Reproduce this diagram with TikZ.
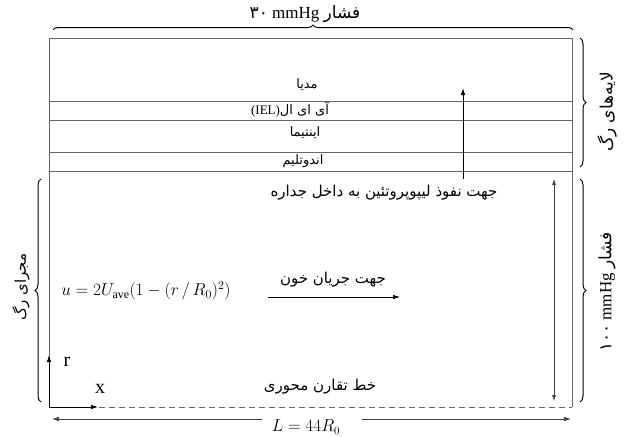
\documentclass[tikz,border=0pt]{standalone}
\usepackage{fontspec}
\setmainfont{Liberation Serif}
\newfontfamily\arabicfont[Script=Arabic]{DejaVu Sans}
\TeXXeTstate=1
\usetikzlibrary{decorations.pathreplacing,arrows.meta}
\newcommand{\fa}[1]{{\arabicfont\beginR #1\endR}}
\newcommand{\fd}[1]{{\arabicfont #1}}
\begin{document}
\begin{tikzpicture}[x=1pt,y=-1pt,
  wall/.style={draw=black!60, line width=0.9pt},
  arr/.style={-{Latex[length=7pt,width=4.5pt]}, line width=0.8pt},
  thinarr/.style={{Latex[length=6pt,width=4pt]}-{Latex[length=6pt,width=4pt]}, line width=0.6pt, draw=black!75},
  brc/.style={decorate, decoration={brace, amplitude=6pt}, line width=1pt},
  lbl/.style={inner sep=0pt, font=\fontsize{15}{17}\selectfont},
  big/.style={inner sep=0pt, font=\fontsize{17}{19}\selectfont},
  axlbl/.style={inner sep=0pt, font=\fontsize{20}{22}\selectfont},
  lay/.style={inner sep=0pt, font=\fontsize{13}{15}\selectfont}]
\useasboundingbox (0,0) rectangle (625,437);
\fill[white] (0,0) rectangle (625,437);
% outer wall
\coordinate (tl) at (49,38);
\coordinate (tr) at (572,38);
\coordinate (bl) at (49,407);
\coordinate (br) at (572,407);
\draw[wall] (bl) -- (tl) -- (tr) -- (br);
\draw[wall, dash pattern=on 6pt off 4pt] (bl) -- (br);
% layer lines
\foreach \y/\n in {101/a,120/b,152/c,171/d}{
  \coordinate (L\n w) at (49,\y);
  \coordinate (L\n e) at (572,\y);
  \draw[wall] (L\n w) -- (L\n e);
}
% layer labels
\node[lay] (media) at (307,85) {\fa{مدیا}};
\node[lay] (iel) at (290,110) {(IEL)\fa{آی ای ال}};
\node[lay] (intima) at (305,133) {\fa{اینتیما}};
\node[lay] (endo) at (303,161) {\fa{اندوتلیم}};
% top label and brace
\node[big] (top) at (305,14) {\fd{۳۰} mmHg \fa{فشار}};
\coordinate (tb0) at (53,30);
\coordinate (tb1) at (573,30);
\draw[brc, decoration={amplitude=5pt}] (tb0) -- (tb1);
% right braces
\coordinate (rb0) at (580,38);
\coordinate (rb1) at (580,167);
\draw[brc] (rb0) -- (rb1);
\node[big, rotate=90] (layers) at (607,112) {\fa{لایه‌های رگ}};
\coordinate (rb2) at (580,179);
\coordinate (rb3) at (580,402);
\draw[brc] (rb2) -- (rb3);
\node[big, rotate=90] (press) at (607,292) {\fd{۱۰۰} mmHg \fa{فشار}};
% left brace
\coordinate (lb0) at (41,402);
\coordinate (lb1) at (41,179);
\draw[brc] (lb0) -- (lb1);
\node[lbl, rotate=90] (lumen) at (21,287) {\fa{مجرای رگ}};
% lipoprotein arrow
\coordinate (p0) at (463,179);
\coordinate (p1) at (463,88);
\draw[arr] (p0) -- (p1);
\node[lbl] (lipo) at (384,193) {\fa{جهت نفوذ لیپوپروتئین به داخل جداره}};
% radial double arrow
\coordinate (d0) at (554,179);
\coordinate (d1) at (554,401);
\draw[thinarr] (d0) -- (d1);
% velocity profile
\node[inner sep=0pt, font=\fontsize{17}{19}\selectfont] (formula) at (146,291) {$u=2U_{\mathrm{ave}}(1-(r\,/\,R_0)^2)$};
\node[lbl] (flowtxt) at (333,280) {\fa{جهت جریان خون}};
\coordinate (f0) at (268,297);
\coordinate (f1) at (400,297);
\draw[arr, line width=0.7pt] (f0) -- (f1);
% axes
\coordinate (rtip) at (49,355);
\coordinate (xtip) at (98,407);
\draw[arr] (bl) -- (rtip);
\draw[arr] (bl) -- (xtip);
\node[axlbl] (rl) at (67,362) {r};
\node[axlbl] (xl) at (100,389) {x};
\node[lbl] (axis) at (320,387) {\fa{خط تقارن محوری}};
% length
\node[inner sep=0pt, font=\fontsize{16}{18}\selectfont] (len) at (306,427) {$L=44R_0$};
\coordinate (b0) at (52,419);
\coordinate (b1) at (262,419);
\coordinate (b2) at (362,419);
\coordinate (b3) at (571,419);
\draw[arr, line width=0.7pt, draw=black!75] (b1) -- (b0);
\draw[arr, line width=0.7pt, draw=black!75] (b2) -- (b3);
\end{tikzpicture}
\end{document}
